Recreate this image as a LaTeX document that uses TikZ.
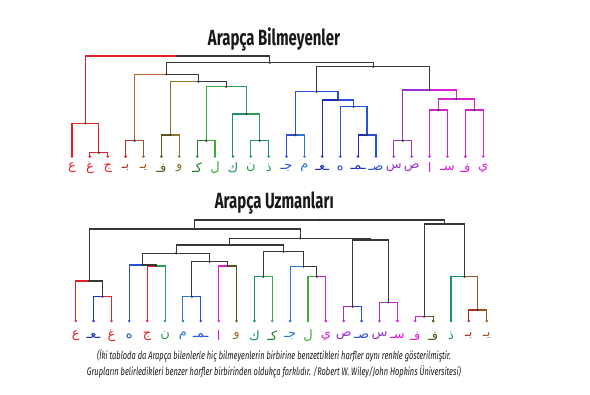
\documentclass[tikz,border=0pt]{standalone}
\usepackage{fontspec}
\TeXXeTstate=1
\setmainfont{Fira Sans}
\newfontfamily\arfont[Script=Arabic]{DejaVu Sans}
\newfontfamily\titlefont[FakeStretch=0.68]{Fira Sans}
\newfontfamily\capfont[FakeStretch=0.68]{Fira Sans}

\definecolor{kRed}{RGB}{226,34,40}
\definecolor{kDRed}{RGB}{175,45,30}
\definecolor{kBrown}{RGB}{160,85,30}
\definecolor{kOrange}{RGB}{200,100,50}
\definecolor{kOliveD}{RGB}{95,85,25}
\definecolor{kOlive}{RGB}{140,120,40}
\definecolor{kGreenD}{RGB}{30,130,45}
\definecolor{kGreen}{RGB}{60,170,60}
\definecolor{kTeal}{RGB}{25,145,110}
\definecolor{kTealG}{RGB}{40,155,85}
\definecolor{kBlue}{RGB}{40,80,220}
\definecolor{kBlueD}{RGB}{30,45,185}
\definecolor{kBlueL}{RGB}{40,120,215}
\definecolor{kPurple}{RGB}{150,50,210}
\definecolor{kMag}{RGB}{220,30,210}
\definecolor{kDark}{RGB}{55,55,55}
\definecolor{kTitle}{RGB}{25,25,25}

\newcommand\dleg[3]{\draw[legline,#1] (#2) |- (#3);}

\tikzset{
  legline/.style={line width=1.1pt},
  ltr/.style={font=\arfont\fontsize{13}{13}\selectfont, inner sep=0pt, anchor=center},
  titlestyle/.style={font=\titlefont\bfseries\fontsize{22}{22}\selectfont, text=kTitle, inner sep=0pt},
  capstyle/.style={font=\capfont\itshape\fontsize{11}{16}\selectfont, text=kTitle, align=center, inner sep=0pt},
}

\begin{document}
\begin{tikzpicture}[x=1pt,y=-1pt]
\fill[white] (0,0) rectangle (590,395);
\useasboundingbox (0,0) rectangle (590,395);

% titles
\node[titlestyle] (title1) at (274,39) {Arapça Bilmeyenler};
\node[titlestyle] (title2) at (274.3,203) {Arapça Uzmanları};

% ---------------- top leaves
\foreach \i/\ch/\col in {1/ع/kRed, 2/غ/kRed, 3/ج/kRed, 4/بـ/kDRed, 5/يـ/kBrown, 6/فـ/kOliveD, 7/و/kOlive, 8/كـ/kGreenD, 9/ل/kGreen, 10/ك/kTeal, 11/ن/kTealG, 12/ذ/kTeal, 13/جـ/kBlue, 14/م/kBlueL, 15/ـعـ/kBlueD, 16/ه/kBlue, 17/ـمـ/kBlueD, 18/صـ/kBlue, 19/س/kPurple, 20/ص/kPurple, 21/ا/kMag, 22/سـ/kMag, 23/فـ/kMag, 24/ي/kMag}{
  \coordinate (t\i) at ({72+(\i-1)*17.88},156.5);
  \node[ltr,text=\col] (tl\i) at ({72+(\i-1)*17.88},168) {\beginR\ch\endR};
}

% top internal nodes
\coordinate (a23) at (98.82,152.7);
\coordinate (aR) at (85.41,123.3);
\coordinate (a45) at (134.58,140.7);
\coordinate (a67) at (170.34,135);
\coordinate (a89) at (206.1,140.7);
\coordinate (a1112) at (259.74,140.7);
\coordinate (a10) at (246.33,114);
\coordinate (aG) at (226.2,86.7);
\coordinate (aOG) at (198.27,81.7);
\coordinate (aBr) at (166.4,74.3);
\coordinate (a1314) at (295.5,135);
\coordinate (a1718) at (367.02,135);
\coordinate (a16) at (353.61,106.7);
\coordinate (a15) at (337.97,100);
\coordinate (aBl) at (316.7,91.7);
\coordinate (a1920) at (402.78,140.7);
\coordinate (a2122) at (438.54,110);
\coordinate (a2324) at (474.3,110);
\coordinate (aMg) at (456.42,99);
\coordinate (aPM) at (429.6,90);
\coordinate (aBP) at (373.15,66.7);
\coordinate (aMid) at (269.8,62.7);
\coordinate (aRoot) at (177.6,56);

% top legs
\dleg{kRed}{t2}{a23} \dleg{kRed}{t3}{a23}
\dleg{kRed}{t1}{aR} \dleg{kRed}{a23}{aR}
\dleg{kRed}{aR}{aRoot} \dleg{kDark}{aMid}{aRoot}
\dleg{kDRed}{t4}{a45} \dleg{kBrown}{t5}{a45}
\dleg{kOrange}{a45}{aBr} \dleg{kDark}{aOG}{aBr}
\dleg{kOliveD}{t6}{a67} \dleg{kOlive}{t7}{a67}
\dleg{kOlive}{a67}{aOG} \dleg{kDark}{aG}{aOG}
\dleg{kGreenD}{t8}{a89} \dleg{kGreen}{t9}{a89}
\dleg{kGreen}{a89}{aG} \dleg{kTealG}{a10}{aG}
\dleg{kTeal}{t10}{a10} \dleg{kTealG}{a1112}{a10}
\dleg{kTealG}{t11}{a1112} \dleg{kTeal}{t12}{a1112}
\dleg{kDark}{aBr}{aMid} \dleg{kDark}{aBP}{aMid}
\dleg{kDark}{aBl}{aBP} \dleg{kDark}{aPM}{aBP}
\dleg{kBlue}{a1314}{aBl} \dleg{kBlue}{a15}{aBl}
\dleg{kBlue}{t13}{a1314} \dleg{kBlueL}{t14}{a1314}
\dleg{kBlueD}{t15}{a15} \dleg{kBlue}{a16}{a15}
\dleg{kBlue}{t16}{a16} \dleg{kBlue}{a1718}{a16}
\dleg{kBlueD}{t17}{a1718} \dleg{kBlue}{t18}{a1718}
\dleg{kPurple}{a1920}{aPM} \dleg{kMag}{aMg}{aPM}
\dleg{kPurple}{t19}{a1920} \dleg{kPurple}{t20}{a1920}
\dleg{kMag}{a2122}{aMg} \dleg{kMag}{a2324}{aMg}
\dleg{kMag}{t21}{a2122} \dleg{kMag}{t22}{a2122}
\dleg{kMag}{t23}{a2324} \dleg{kMag}{t24}{a2324}

% ---------------- bottom leaves
\foreach \i/\ch/\col in {1/ع/kRed, 2/ـعـ/kBlueD, 3/غ/kRed, 4/ه/kBlue, 5/ج/kRed, 6/ن/kTealG, 7/م/kBlueL, 8/ـمـ/kBlue, 9/ا/kMag, 10/و/kOlive, 11/ك/kTeal, 12/كـ/kGreenD, 13/جـ/kBlueL, 14/ل/kGreen, 15/ي/kMag, 16/ص/kPurple, 17/صـ/kBlue, 18/س/kPurple, 19/سـ/kMag, 20/فـ/kMag, 21/فـ/kOliveD, 22/ذ/kTeal, 23/بـ/kDRed, 24/يـ/kBrown}{
  \coordinate (b\i) at ({75.7+(\i-1)*17.87},321);
  \node[ltr,text=\col] (bl\i) at ({75.7+(\i-1)*17.87},336) {\beginR\ch\endR};
}

% bottom internal nodes
\coordinate (c23) at (102.5,296.7);
\coordinate (c1) at (89.1,281);
\coordinate (c56) at (156.1,266);
\coordinate (c4) at (142.7,265);
\coordinate (c78) at (191.86,296.7);
\coordinate (c910) at (227.6,266);
\coordinate (c710) at (209.7,261.7);
\coordinate (c410) at (176.2,253.3);
\coordinate (c1112) at (263.3,276.7);
\coordinate (c1415) at (316.9,276.7);
\coordinate (c13) at (303.5,266.7);
\coordinate (c1115) at (283.4,251.7);
\coordinate (c415) at (229.8,245);
\coordinate (c1617) at (352.7,306.7);
\coordinate (c1819) at (388.4,302.3);
\coordinate (c1619) at (370.6,240);
\coordinate (c419) at (300.2,238.3);
\coordinate (cL) at (194.6,229);
\coordinate (c2021) at (424.2,316.7);
\coordinate (c2324) at (477.8,310);
\coordinate (c22) at (464.4,276.7);
\coordinate (cR) at (444.3,224);
\coordinate (bRoot) at (319.4,220);

% bottom legs
\dleg{kBlueD}{b2}{c23} \dleg{kRed}{b3}{c23}
\dleg{kRed}{b1}{c1} \dleg{kDark}{c23}{c1}
\dleg{kDark}{c1}{cL} \dleg{kDark}{c419}{cL}
\dleg{kRed}{b5}{c56} \dleg{kTealG}{b6}{c56}
\dleg{kBlue}{b4}{c4} \dleg{kDark}{c56}{c4}
\dleg{kDark}{c4}{c410} \dleg{kDark}{c710}{c410}
\dleg{kBlueL}{b7}{c78} \dleg{kBlue}{b8}{c78}
\dleg{kDark}{c78}{c710} \dleg{kDark}{c910}{c710}
\dleg{kMag}{b9}{c910} \dleg{kOliveD}{b10}{c910}
\dleg{kTeal}{b11}{c1112} \dleg{kGreen}{b12}{c1112}
\dleg{kDark}{c1112}{c1115} \dleg{kDark}{c13}{c1115}
\dleg{kBlueL}{b13}{c13} \dleg{kDark}{c1415}{c13}
\dleg{kGreen}{b14}{c1415} \dleg{kMag}{b15}{c1415}
\dleg{kDark}{c410}{c415} \dleg{kDark}{c1115}{c415}
\dleg{kDark}{c415}{c419} \dleg{kDark}{c1619}{c419}
\dleg{kPurple}{b16}{c1617} \dleg{kBlue}{b17}{c1617}
\dleg{kDark}{c1617}{c1619} \dleg{kDark}{c1819}{c1619}
\dleg{kPurple}{b18}{c1819} \dleg{kMag}{b19}{c1819}
\dleg{kDark}{cL}{bRoot} \dleg{kDark}{cR}{bRoot}
\dleg{kDark}{c2021}{cR} \dleg{kDark}{c22}{cR}
\dleg{kMag}{b20}{c2021} \dleg{kOliveD}{b21}{c2021}
\dleg{kTeal}{b22}{c22} \dleg{kBrown}{c2324}{c22}
\dleg{kDRed}{b23}{c2324} \dleg{kBrown}{b24}{c2324}

% dots
\foreach \n in {a23,aR,a45,a67,a89,a1112,a10,aG,aOG,aBr,a1314,a1718,a16,a15,aBl,a1920,a2122,a2324,aMg,aPM,aBP,aMid,aRoot,
  c23,c1,c56,c4,c78,c910,c710,c410,c1112,c1415,c13,c1115,c415,c1617,c1819,c1619,c419,cL,c2021,c2324,c22,cR,bRoot}{
  \fill[kDark] (\n) circle (1.3pt);
}
\foreach \i/\col in {1/kRed,2/kRed,3/kRed,4/kDRed,5/kBrown,6/kOliveD,7/kOlive,8/kGreenD,9/kGreen,10/kTeal,11/kTealG,12/kTeal,13/kBlue,14/kBlueL,15/kBlueD,16/kBlue,17/kBlueD,18/kBlue,19/kPurple,20/kPurple,21/kMag,22/kMag,23/kMag,24/kMag}{
  \fill[\col] (t\i) circle (1.4pt);
}
\foreach \i/\col in {1/kRed,2/kBlueD,3/kRed,4/kBlue,5/kRed,6/kTealG,7/kBlueL,8/kBlue,9/kMag,10/kOliveD,11/kTeal,12/kGreen,13/kBlueL,14/kGreen,15/kMag,16/kPurple,17/kBlue,18/kPurple,19/kMag,20/kMag,21/kOliveD,22/kTeal,23/kDRed,24/kBrown}{
  \fill[\col] (b\i) circle (1.4pt);
}

% caption
\node[capstyle] (cap) at (274,363.5) {(İki tabloda da Arapça bilenlerle hiç bilmeyenlerin birbirine benzettikleri harfler aynı renkle gösterilmiştir.\\Grupların belirledikleri benzer harfler birbirinden oldukça farklıdır. /Robert W. Wiley/John Hopkins Üniversitesi)};
\end{tikzpicture}
\end{document}
